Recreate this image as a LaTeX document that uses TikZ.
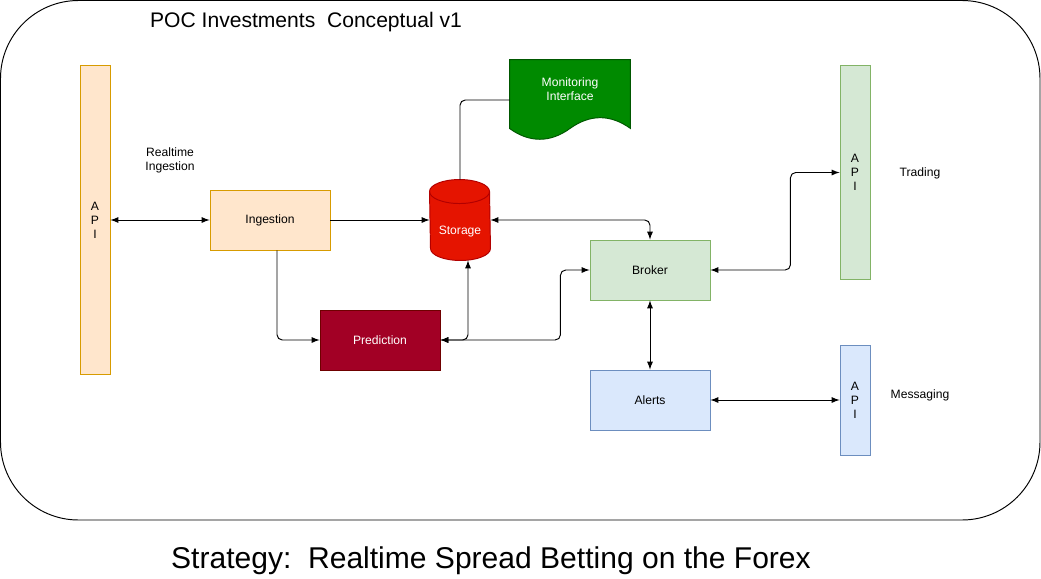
\documentclass[tikz,border=0pt]{standalone}
\usepackage{fontspec}
\setmainfont{Liberation Sans}
\usepackage{xcolor}

\definecolor{orangefill}{HTML}{FFE6CC}
\definecolor{orangeline}{HTML}{D79B00}
\definecolor{greenfill}{HTML}{D5E8D4}
\definecolor{greenline}{HTML}{82B366}
\definecolor{bluefill}{HTML}{DAE8FC}
\definecolor{blueline}{HTML}{6C8EBF}
\definecolor{storefill}{HTML}{E51400}
\definecolor{storeline}{HTML}{B20000}
\definecolor{monfill}{HTML}{008A00}
\definecolor{monline}{HTML}{005700}
\definecolor{predfill}{HTML}{A20025}
\definecolor{predline}{HTML}{6F0000}

\begin{document}
\begin{tikzpicture}[>=latex, x=0.02cm, y=-0.02cm, line width=0.55pt,
    font=\fontsize{6.9}{8}\selectfont,
    box/.style={draw, minimum width=2.4cm, minimum height=1.2cm, inner sep=0pt},
    api/.style={draw, minimum width=0.6cm, inner sep=0pt, align=center},
    elbow/.style={rounded corners=3pt}]
    \useasboundingbox (0,0) rectangle (1041,578);
    \draw[rounded corners=1.56cm] (0.5,0.5) rectangle (1040,520);

    \node[font=\fontsize{12}{14}\selectfont] (title) at (306,22) {POC Investments\ \ Conceptual v1};
    \node[font=\fontsize{17.1}{20}\selectfont] (caption) at (491,561) {Strategy:\ \ Realtime Spread Betting on the Forex};

    \node[api, fill=orangefill, draw=orangeline, minimum height=6.2cm] (apiin) at (95,220) {A\\P\\I};
    \node[align=center] (rtlabel) at (170,160) {Realtime\\Ingestion};
    \node[box, fill=orangefill, draw=orangeline] (ing) at (270,220) {Ingestion};

    % storage drum
    \node[inner sep=0pt, minimum width=1.2cm, minimum height=1.6cm] (sto) at (460,220) {};
    \filldraw[fill=storefill, draw=storeline] ([yshift=-0.24cm]sto.north west)
        arc[start angle=180, end angle=0, x radius=0.6cm, y radius=0.24cm]
        -- ([yshift=0.24cm]sto.south east)
        arc[start angle=0, end angle=-180, x radius=0.6cm, y radius=0.24cm] -- cycle;
    \draw[storeline] ([yshift=-0.24cm]sto.north west)
        arc[start angle=180, end angle=360, x radius=0.6cm, y radius=0.24cm];
    \node[text=white] (stolabel) at (460,232) {Storage};

    % monitoring document
    \node[inner sep=0pt, minimum width=2.4cm, minimum height=1.6cm] (mon) at (570,100) {};
    \filldraw[fill=monfill, draw=monline] (mon.north west) -- (mon.north east)
        -- ([yshift=0.24cm]mon.south east)
        .. controls +(-0.4cm,0.288cm) and +(0.4cm,0.288cm) .. ([yshift=0.24cm]mon.south)
        .. controls +(-0.4cm,-0.288cm) and +(0.4cm,-0.288cm) .. ([yshift=0.24cm]mon.south west)
        -- cycle;
    \node[text=white, align=center] (monlabel) at (570,89) {Monitoring\\Interface};

    \node[box, fill=predfill, draw=predline, text=white] (pred) at (380,340) {Prediction};
    \node[box, fill=greenfill, draw=greenline] (brk) at (650,270) {Broker};
    \node[box, fill=bluefill, draw=blueline] (alr) at (650,400) {Alerts};

    \node[api, fill=greenfill, draw=greenline, minimum height=4.3cm] (apitr) at (855,172.5) {A\\P\\I};
    \node (trlabel) at (920,173) {Trading};
    \node[api, fill=bluefill, draw=blueline, minimum height=2.2cm] (apimsg) at (855,400) {A\\P\\I};
    \node (msglabel) at (920,395) {Messaging};

    \draw[<->] (apiin.east) -- (ing.west);
    \draw[->] (ing.east) -- (sto.west);
    \draw[->, elbow] ([xshift=0.14cm]ing.south) |- (pred.west);
    \draw[elbow] (sto.north) |- (mon.west);
    \draw[<->, elbow] (sto.east) -| (brk.north);
    \draw[<->, elbow] (pred.east) -| ([xshift=0.16cm]sto.south);
    \draw[<->, elbow] (pred.east) -- ++(2.4cm,0) |- (brk.west);
    \draw[<->] (brk.south) -- (alr.north);
    \draw[<->, elbow] (brk.east) -- ++(1.6cm,0) |- (apitr.west);
    \draw[<->] (alr.east) -- (apimsg.west);
\end{tikzpicture}
\end{document}
